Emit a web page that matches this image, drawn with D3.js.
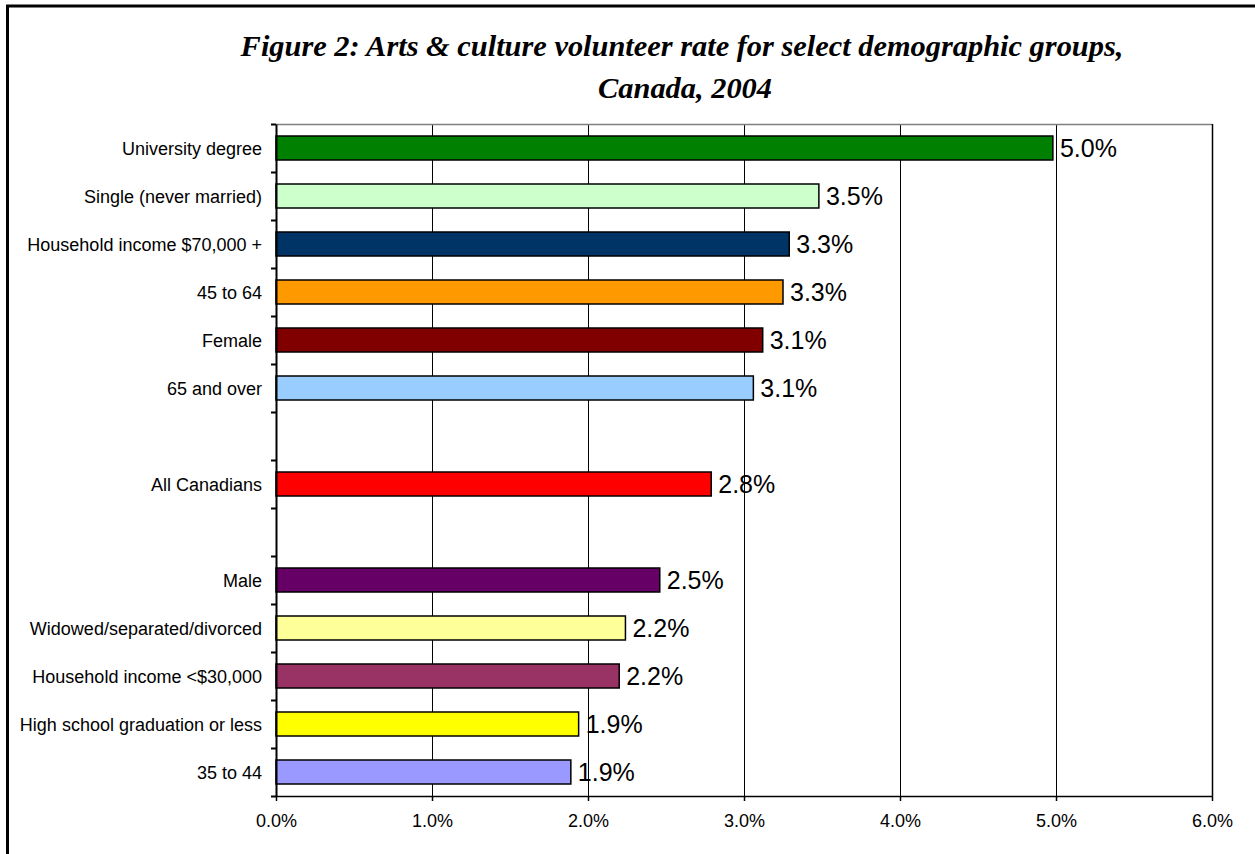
<!DOCTYPE html>
<html>
<head>
<meta charset="utf-8">
<script src="https://cdn.jsdelivr.net/npm/d3@7"></script>
<title>Arts & culture volunteer rate</title>
<style>
	body { margin:0; background:#fff; }
	svg { display:block; }
	.cat, .val, .tick text { font-family:"Liberation Sans", Arial, sans-serif; fill:#000; }
</style>
</head>
<body>
<script>
// rows top to bottom; null = empty slot
var categories = ["University degree", "Single (never married)", "Household income $70,000 +", "45 to 64",
	"Female", "65 and over", null, "All Canadians", null, "Male", "Widowed/separated/divorced",
	"Household income <$30,000", "High school graduation or less", "35 to 44"];
var rates = [4.98, 3.48, 3.29, 3.25, 3.12, 3.06, null, 2.79, null, 2.46, 2.24, 2.20, 1.94, 1.89];
var barColors = ["#008000", "#CCFFCC", "#003366", "#FF9900", "#800000", "#99CCFF", null, "#FF0000", null,
	"#660066", "#FFFF99", "#993366", "#FFFF00", "#9999FF"];
var xTicks = [0, 1, 2, 3, 4, 5, 6];

(function(){
	var W = 1255, H = 854;
	var svg = d3.select("body").append("svg").attr("width", W).attr("height", H);

	// outer frame
	svg.append("rect").attr("x", 7.5).attr("y", 6).attr("width", W + 10).attr("height", H + 10)
		.attr("fill", "none").attr("stroke", "#000").attr("stroke-width", 3);

	// title
	var title = svg.append("text")
		.attr("text-anchor", "middle")
		.style("font-family", "'Palatino Linotype', 'Book Antiqua', Palatino, 'Liberation Serif', serif")
		.style("font-style", "italic").style("font-weight", "bold").style("font-size", "30.4px");
	title.append("tspan").attr("x", 682).attr("y", 56).text("Figure 2: Arts & culture volunteer rate for select demographic groups,");
	title.append("tspan").attr("x", 685).attr("y", 98).text("Canada, 2004");

	var pl = 276, pr = 1212, pt = 124, pb = 796;
	var x = d3.scaleLinear().domain([0, 6]).range([pl, pr]);
	var y = d3.scaleBand().domain(d3.range(categories.length)).range([pt, pb])
		.paddingInner(0.5).paddingOuter(0.25);
	var slot = d3.scaleLinear().domain([0, categories.length]).range([pt, pb]);

	// gridlines
	svg.append("g").selectAll("line").data(xTicks.slice(1, -1)).enter().append("line")
		.attr("x1", function(d){ return x(d) + 0.5; }).attr("x2", function(d){ return x(d) + 0.5; })
		.attr("y1", pt).attr("y2", pb).attr("stroke", "#000").attr("stroke-width", 1);

	// plot frame top / right
	svg.append("line").attr("x1", pl).attr("x2", pr).attr("y1", pt + 0.5).attr("y2", pt + 0.5)
		.attr("stroke", "#808080").attr("stroke-width", 1.5);
	svg.append("line").attr("x1", pr + 0.5).attr("x2", pr + 0.5).attr("y1", pt).attr("y2", pb)
		.attr("stroke", "#000").attr("stroke-width", 1.5);

	// bars
	var rows = d3.range(categories.length).filter(function(i){ return rates[i] != null; });
	svg.append("g").selectAll("rect").data(rows).enter().append("rect")
		.attr("x", x(0))
		.attr("y", function(i){ return y(i); })
		.attr("width", function(i){ return x(rates[i]) - x(0); })
		.attr("height", y.bandwidth())
		.attr("fill", function(i){ return barColors[i]; })
		.attr("stroke", "#000").attr("stroke-width", 1.5);

	// value labels
	svg.append("g").selectAll("text").data(rows).enter().append("text")
		.attr("class", "val")
		.attr("x", function(i){ return x(rates[i]) + 7; })
		.attr("y", function(i){ return y(i) + y.bandwidth() / 2 + 9; })
		.style("font-size", "25px")
		.text(function(i){ return d3.format(".1f")(rates[i]) + "%"; });

	// category labels
	svg.append("g").selectAll("text").data(rows).enter().append("text")
		.attr("class", "cat")
		.attr("x", 262)
		.attr("y", function(i){ return y(i) + y.bandwidth() / 2 + 6.5; })
		.attr("text-anchor", "end")
		.style("font-size", "18px")
		.text(function(i){ return categories[i]; });

	// y axis: ticks between slots
	var ya = svg.append("g").attr("transform", "translate(" + pl + ",0)")
		.call(d3.axisLeft(slot).tickValues(d3.range(categories.length + 1)).tickFormat("").tickSize(5).tickSizeOuter(0));
	ya.selectAll("line, path").attr("stroke", "#000").attr("stroke-width", 2);

	// x axis
	var xa = svg.append("g").attr("transform", "translate(0," + pb + ")")
		.call(d3.axisBottom(x).tickValues(xTicks).tickFormat(function(d){ return d3.format(".1f")(d) + "%"; })
			.tickSize(5).tickSizeOuter(0).tickPadding(13));
	xa.selectAll("line, path").attr("stroke", "#000").attr("stroke-width", 1.5);
	xa.selectAll("text").style("font-size", "18px");
})();
</script>
</body>
</html>
